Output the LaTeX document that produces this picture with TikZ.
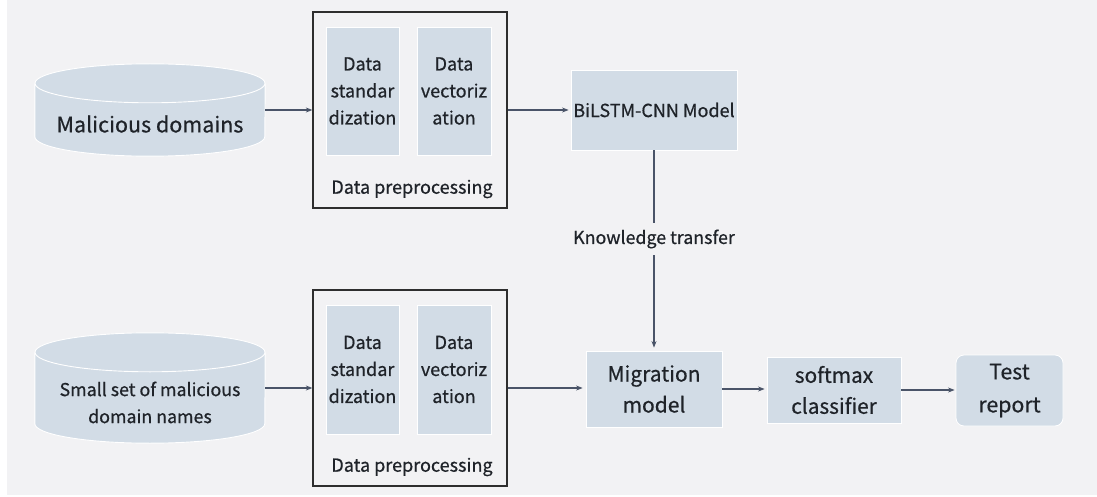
\documentclass[tikz,border=0pt]{standalone}
\usepackage{fontspec}
\setmainfont{Noto Sans CJK SC}[FakeBold=0.6]
\usetikzlibrary{arrows.meta}

\definecolor{bgc}{HTML}{F2F2F4}
\definecolor{boxc}{HTML}{D2DCE6}
\definecolor{inkc}{HTML}{1F2329}
\definecolor{linec}{HTML}{4A5468}
\definecolor{framec}{HTML}{2E2E2E}

\newcommand\setfs[2]{\fontsize{#1}{#2}\selectfont}

\pgfdeclarelayer{canvas}
\pgfdeclarelayer{back}
\pgfsetlayers{canvas,back,main}

% database cylinder drawn behind the named node #1 (width 230pt)
\newcommand\dbcyl[1]{%
  \begin{pgfonlayer}{back}
    \fill[boxc] ([yshift=-19.5pt]#1.north west) rectangle ([yshift=19.5pt]#1.south east);
    \fill[boxc] ([yshift=19.5pt]#1.south) ellipse [x radius=115pt, y radius=19.5pt];
    \draw[white, line width=0.9pt] ([yshift=-19.5pt]#1.north west) -- ([yshift=19.5pt]#1.south west)
      arc [start angle=180, end angle=360, x radius=115pt, y radius=19.5pt]
      -- ([yshift=-19.5pt]#1.north east);
    \draw[fill=boxc, draw=white, line width=0.9pt] ([yshift=-19.5pt]#1.north) ellipse [x radius=115pt, y radius=19.5pt];
  \end{pgfonlayer}}

\begin{document}
\begin{tikzpicture}[x=1pt, y=1pt,
  conn/.style={draw=linec, line width=1.1pt},
  flow/.style={conn, -{Stealth[length=6.5pt, width=5pt]}},
  blk/.style={rectangle, fill=boxc, draw=white, line width=0.8pt, text=inkc, align=center, inner sep=0pt},
  cylnode/.style={rectangle, inner sep=0pt, minimum width=230pt},
  grp/.style={rectangle, draw=framec, line width=1.3pt, minimum width=194pt, minimum height=196pt, inner sep=0pt},
  plain/.style={text=inkc, inner sep=0pt, align=center},
]
\useasboundingbox (0,0) rectangle (1097,-497);
\begin{pgfonlayer}{canvas}
  \fill[white] (0,0) rectangle (1097,-497);
  \fill[bgc] (7,0) rectangle (1097,-495);
\end{pgfonlayer}

% ---- upper row: training on the full data set ----
\node[cylnode, minimum height=92pt,
  label={[name=malt, plain, font=\setfs{21.5}{28}, yshift=-14pt]center:Malicious domains}] (mal) at (150,-110) {};
\dbcyl{mal}

\node[grp] (pre1) at (410,-110) {};
\node[blk, minimum width=73pt, minimum height=128pt, font=\setfs{18}{27}] (std1) at (362.5,-91) {Data\\standar\\dization};
\node[blk, minimum width=74pt, minimum height=128pt, font=\setfs{18}{27}] (vec1) at (454,-91) {Data\\vectoriz\\ation};
\node[plain, font=\setfs{18}{22}] (lab1) at (412,-189) {Data preprocessing};

\node[blk, minimum width=166pt, minimum height=80pt, font=\setfs{18}{23}] (bil) at (654,-110) {BiLSTM-CNN Model};

% ---- lower row: transfer to the small data set ----
\node[cylnode, minimum height=110pt,
  label={[name=smallt, plain, font=\setfs{17.8}{27}, yshift=-14.5pt]center:Small set of malicious\\domain names}] (small) at (150,-388) {};
\dbcyl{small}

\node[grp] (pre2) at (410,-388) {};
\node[blk, minimum width=73pt, minimum height=129pt, font=\setfs{18}{27}] (std2) at (362.5,-369.5) {Data\\standar\\dization};
\node[blk, minimum width=74pt, minimum height=129pt, font=\setfs{18}{27}] (vec2) at (454,-369.5) {Data\\vectoriz\\ation};
\node[plain, font=\setfs{18}{22}] (lab2) at (412,-467) {Data preprocessing};

\node[plain, font=\setfs{17.8}{22}, minimum height=32pt] (kt) at (654,-239) {Knowledge transfer};

\node[blk, minimum width=136pt, minimum height=76pt, font=\setfs{21}{31}] (mig) at (654,-389) {Migration\\model};
\node[blk, minimum width=134pt, minimum height=66pt, font=\setfs{20.8}{31}] (soft) at (834,-390) {softmax\\classifier};
\node[blk, rounded corners=8pt, minimum width=107pt, minimum height=71pt, font=\setfs{21.3}{33}] (test) at (1009.5,-390.5) {Test\\report};

% ---- connectors ----
\draw[flow] (mal) -- (pre1);
\draw[flow, shorten >=2pt] (pre1) -- (bil);
\draw[conn] (bil) -- (kt);
\draw[flow, shorten >=3pt] (kt) -- (mig);
\draw[flow] (small.east) -- (small.east -| pre2.west);
\draw[flow, shorten >=3pt] (pre2.east) -- (pre2.east -| mig.west);
\draw[flow, shorten >=2pt] (mig.east) -- (mig.east -| soft.west);
\draw[flow, shorten >=1pt] (soft.east) -- (soft.east -| test.west);
\end{tikzpicture}
\end{document}
